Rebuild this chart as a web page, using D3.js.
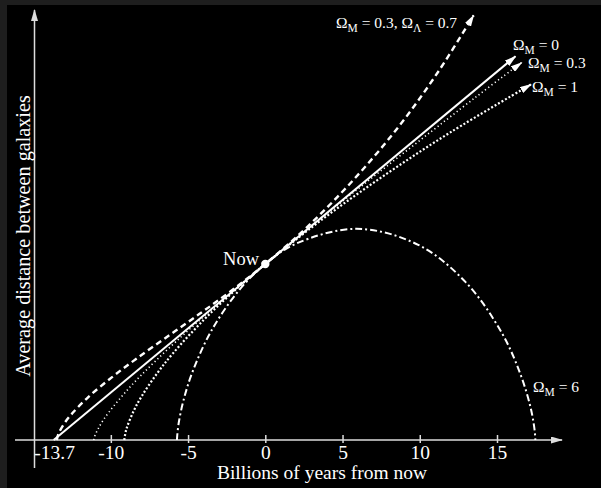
<!DOCTYPE html>
<html lang="en">
<head>
<meta charset="UTF-8">
<title>Expansion of the universe</title>
<script src="https://cdn.jsdelivr.net/npm/d3@7"></script>
<style>
    body { margin: 0; background: #1e1e1e; }
    svg { display: block; }
    text { font-family: "Liberation Serif", "DejaVu Serif", serif; fill: #fff; }
</style>
</head>
<body>
<div id="graph-container"></div>
<script>
    // t = billions of years from now, a = distance relative to today
    var tickValues = [-10, -5, 0, 5, 10, 15];
    var tickLabels = ["-10", "-5", "0", "5", "10", "15"];
    var ageValue = -13.7;
    var ageLabel = "-13.7";

    // Omega_M = 0.3, Omega_Lambda = 0.7
    var lambdaT = [-13.5, -13.4, -12.99, -12.48, -11.46, -9.92, -8.39, -6.35, -4.3, -2.26, 0, 2.79, 5.79, 8.79, 11.29, 13.49];
    var lambdaA = [0, 0.033, 0.097, 0.153, 0.244, 0.357, 0.459, 0.587, 0.714, 0.844, 1, 1.217, 1.486, 1.798, 2.105, 2.413];
    // Omega_M = 0
    var emptyT = [-13.7, 16.2];
    var emptyA = [0, 2.18];
    // Omega_M = 0.3
    var openT = [-11.1, -11.09, -11.02, -10.47, -8.87, -7.07, -4.34, 0, 5.43, 13.55, 16.6];
    var openA = [0, 0.0067, 0.027, 0.116, 0.29, 0.452, 0.674, 1, 1.387, 1.943, 2.145];
    // Omega_M = 1
    var flatT = [-9.13, -9, -8.5, -8, -7, -6, -4, -2, 0, 4, 8, 12, 17.2];
    var flatA = [0, 0.06, 0.169, 0.249, 0.379, 0.49, 0.681, 0.848, 1, 1.274, 1.521, 1.749, 2.02];
    // Omega_M = 6
    var closedT = [-5.72, -5.7, -5.59, -5.29, -4.73, -3.51, -1.71, 0, 1.95, 5.9, 9.9, 13.0, 15.32, 16.52, 17.2, 17.45, 17.48];
    var closedA = [0, 0.027, 0.105, 0.227, 0.383, 0.618, 0.85, 1, 1.114, 1.2, 1.109, 0.894, 0.607, 0.373, 0.175, 0.044, 0];

    var width = 601, height = 488;

    var svg = d3.select("#graph-container")
        .append("svg")
        .attr("width", width)
        .attr("height", height);

    svg.append("rect")
        .attr("x", 7).attr("y", 5)
        .attr("width", width - 7).attr("height", height - 5)
        .attr("fill", "#000");

    var x = d3.scaleLinear().domain([0, 15]).range([265.3, 497]);
    var y = d3.scaleLinear().domain([0, 1]).range([440, 264]);

    var defs = svg.append("defs");
    function addArrow(id, color, w, h) {
        defs.append("marker")
            .attr("id", id)
            .attr("markerUnits", "userSpaceOnUse")
            .attr("markerWidth", w).attr("markerHeight", h)
            .attr("refX", w - 1).attr("refY", h / 2)
            .attr("orient", "auto")
            .append("path")
            .attr("d", "M0,0L" + w + "," + (h / 2) + "L0," + h + "Z")
            .attr("fill", color);
    }
    addArrow("arrow", "#fff", 12, 7);
    addArrow("axisArrow", "#ddd", 12, 7);

    // axes
    svg.append("line")
        .attr("x1", 15).attr("y1", y(0))
        .attr("x2", 562).attr("y2", y(0))
        .attr("stroke", "#ddd").attr("stroke-width", 1.5)
        .attr("marker-end", "url(#axisArrow)");

    svg.append("line")
        .attr("x1", 34.5).attr("y1", 468)
        .attr("x2", 34.5).attr("y2", 10)
        .attr("stroke", "#ddd").attr("stroke-width", 1.5)
        .attr("marker-end", "url(#axisArrow)");

    var xAxis = d3.axisBottom(x)
        .tickValues(tickValues)
        .tickSize(8)
        .tickFormat(function(d, i) { return tickLabels[i]; });

    var gx = svg.append("g")
        .attr("transform", "translate(0," + (y(0) - 5) + ")")
        .call(xAxis);
    gx.select(".domain").remove();
    gx.selectAll(".tick line").attr("stroke", "#ddd").attr("stroke-width", 1.5);
    gx.selectAll(".tick text")
        .attr("y", 24).attr("dy", 0)
        .attr("font-size", 19.5)
        .attr("fill", "#fff");

    svg.append("text")
        .attr("x", x(ageValue) + 1).attr("y", 459)
        .attr("text-anchor", "middle")
        .attr("font-size", 19.5)
        .text(ageLabel);

    svg.append("text")
        .attr("x", 322).attr("y", 479)
        .attr("text-anchor", "middle")
        .attr("font-size", 19.5)
        .text("Billions of years from now");

    svg.append("text")
        .attr("transform", "translate(30,236) rotate(-90)")
        .attr("text-anchor", "middle")
        .attr("font-size", 20.2)
        .text("Average distance between galaxies");

    // curves
    var line = d3.line()
        .x(function(d) { return x(d[0]); })
        .y(function(d) { return y(d[1]); })
        .curve(d3.curveCatmullRom.alpha(0.5));

    function pairs(ts, as) {
        return ts.map(function(t, i) { return [t, as[i]]; });
    }

    var series = [
        { t: closedT, a: closedA, dash: "7,3,2,3", w: 2, arrow: false },
        { t: flatT, a: flatA, dash: "2,2", w: 2.2, arrow: true },
        { t: openT, a: openA, dash: "1.2,2.8", w: 1.6, arrow: true },
        { t: emptyT, a: emptyA, dash: null, w: 2, arrow: true },
        { t: lambdaT, a: lambdaA, dash: "6,4", w: 2.4, arrow: true }
    ];

    svg.selectAll("path.curve")
        .data(series)
        .enter().append("path")
        .attr("class", "curve")
        .attr("d", function(d) { return line(pairs(d.t, d.a)); })
        .attr("fill", "none")
        .attr("stroke", "#fff")
        .attr("stroke-width", function(d) { return d.w; })
        .attr("stroke-dasharray", function(d) { return d.dash; })
        .attr("marker-end", function(d) { return d.arrow ? "url(#arrow)" : null; });

    // now
    svg.append("circle")
        .attr("cx", x(0)).attr("cy", y(1))
        .attr("r", 4.2)
        .attr("fill", "#fff");

    svg.append("text")
        .attr("x", 259).attr("y", 265)
        .attr("text-anchor", "end")
        .attr("font-size", 18.5)
        .text("Now");

    // labels
    function omegaLabel(px, py, parts) {
        var t = svg.append("text").attr("x", px).attr("y", py).attr("font-size", 15.5);
        parts.forEach(function(p) {
            if (p.sub) {
                t.append("tspan").attr("dy", 4).attr("font-size", 11.5).text(p.sub);
            } else {
                t.append("tspan").attr("dy", p.back ? -4 : 0).text(p.s);
            }
        });
    }
    omegaLabel(336, 28, [{ s: "Ω" }, { sub: "M" }, { s: " = 0.3, Ω", back: true }, { sub: "Λ" }, { s: " = 0.7", back: true }]);
    omegaLabel(513, 50, [{ s: "Ω" }, { sub: "M" }, { s: " = 0", back: true }]);
    omegaLabel(528, 68, [{ s: "Ω" }, { sub: "M" }, { s: " = 0.3", back: true }]);
    omegaLabel(532, 92, [{ s: "Ω" }, { sub: "M" }, { s: " = 1", back: true }]);
    omegaLabel(533, 392, [{ s: "Ω" }, { sub: "M" }, { s: " = 6", back: true }]);
</script>
</body>
</html>
